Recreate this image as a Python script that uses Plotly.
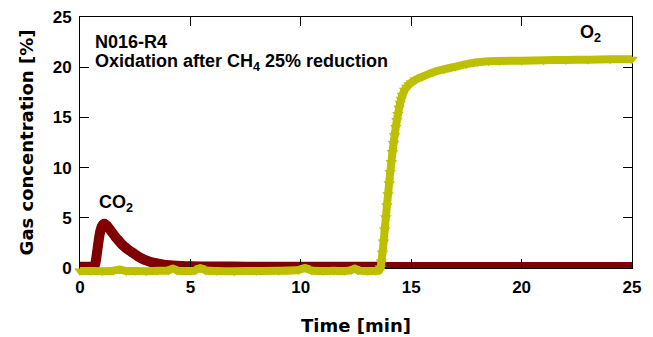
import plotly.graph_objects as go

# CO2 series
co2_t = [0, 0.2, 0.4, 0.55, 0.65, 0.7, 0.75, 0.8, 0.85, 0.9, 0.95, 1.0, 1.05, 1.1, 1.15,
         1.2, 1.3, 1.4, 1.5, 1.6, 1.7, 1.8, 1.9, 2.0, 2.2, 2.4, 2.6, 2.8, 3.0, 3.2, 3.5,
         3.8, 4.2, 4.6, 5, 6, 7, 8, 9, 10, 11, 12, 13, 14, 15, 16, 17, 18, 19, 20, 21,
         22, 23, 24, 25]
co2_v = [0.12, 0.12, 0.12, 0.12, 0.2, 0.5, 1.2, 2.0, 2.8, 3.45, 3.9, 4.2, 4.35, 4.4, 4.35,
         4.25, 4.0, 3.7, 3.4, 3.1, 2.85, 2.6, 2.35, 2.15, 1.8, 1.5, 1.2, 0.95, 0.75, 0.6,
         0.45, 0.33, 0.25, 0.2, 0.17, 0.15, 0.14, 0.13, 0.13, 0.12, 0.12, 0.12, 0.12, 0.11,
         0.11, 0.11, 0.11, 0.1, 0.1, 0.1, 0.1, 0.1, 0.1, 0.1, 0.1]

# O2 series
o2_t = [0, 0.5, 1.0, 1.5, 1.8, 2.1, 2.5, 3.0, 3.5, 4.0, 4.2, 4.4, 4.8, 5.2, 5.45, 5.7,
        6.2, 7.0, 8.0, 9.0, 9.9, 10.2, 10.5, 11.0, 11.5, 12.0, 12.3, 12.45, 12.6, 13.0,
        13.4, 13.55, 13.6, 13.65, 13.7, 13.75, 13.8, 13.85, 13.9, 13.95, 14.0, 14.05,
        14.1, 14.15, 14.2, 14.25, 14.3, 14.35, 14.4, 14.45, 14.5, 14.55, 14.6, 14.7,
        14.8, 14.9, 15.0, 15.2, 15.5, 16.0, 16.5, 17.0, 17.5, 18.0, 18.5, 19.0, 20.0,
        21.0, 22.0, 23.0, 24.0, 25.0]
o2_v = [-0.3, -0.3, -0.32, -0.28, -0.15, -0.3, -0.3, -0.32, -0.28, -0.25, -0.05, -0.25,
        -0.3, -0.25, 0.0, -0.25, -0.3, -0.32, -0.3, -0.28, -0.2, 0.0, -0.25, -0.3,
        -0.28, -0.3, -0.2, -0.05, -0.25, -0.3, -0.3, -0.25, 0.0, 0.6, 1.5, 2.6, 3.8, 5.0,
        6.2, 7.3, 8.4, 9.5, 10.5, 11.5, 12.4, 13.2, 14.0, 14.7, 15.3, 15.9, 16.4, 16.8,
        17.2, 17.7, 18.0, 18.25, 18.45, 18.75, 19.05, 19.5, 19.8, 20.05, 20.3, 20.5,
        20.6, 20.62, 20.65, 20.7, 20.72, 20.75, 20.78, 20.8]

x_ticks = [0, 5, 10, 15, 20, 25]
y_ticks = [0, 5, 10, 15, 20, 25]
x_range = [0, 25]
y_range = [0, 25]

FONT = "Liberation Sans, Arial, sans-serif"
TFONT = "DejaVu Sans, Verdana, sans-serif"
RED = "#800000"
YEL = "#bcc000"

# layout geometry (pixels)
W, H = 653, 337
PL, PR, PT = 80, 632, 17
PB_MAIN = 268      # y = 0 line
PB_EXT = 277       # extended clip area for the O2 trace
px_per_unit = (PB_MAIN - PT) / (y_range[1] - y_range[0])
ext_bottom_val = y_range[0] - (PB_EXT - PB_MAIN) / px_per_unit
main_dom0 = (PB_EXT - PB_MAIN) / (PB_EXT - PT)

fig = go.Figure()
fig.add_trace(go.Scatter(
    x=co2_t, y=co2_v, mode="lines+markers", cliponaxis=True,
    line=dict(color=RED, width=10, shape="spline", smoothing=0.6),
    marker=dict(symbol="circle", size=9, color=RED), showlegend=False,
    xaxis="x", yaxis="y"))
fig.add_trace(go.Scatter(
    x=o2_t, y=o2_v, mode="lines+markers", cliponaxis=False,
    line=dict(color=YEL, width=8, shape="spline", smoothing=0.6),
    marker=dict(symbol="triangle-down", size=10, color=YEL), showlegend=False,
    xaxis="x2", yaxis="y2"))

axis_common = dict(
    showline=True, linecolor="black", linewidth=1, mirror="ticks",
    ticks="inside", ticklen=9, tickcolor="black", tickwidth=1,
    showgrid=False, zeroline=False, automargin=False, ticklabelstandoff=4,
    tickfont=dict(family=FONT, size=17, color="black"),
)
fig.update_layout(
    xaxis=dict(range=x_range, tickvals=x_ticks, domain=[0, 1], anchor="y",
               ticktext=["<b>%d</b>" % v for v in x_ticks],
               title=dict(text="<b>Time [min]</b>", standoff=22,
                          font=dict(family=TFONT, size=18, color="black")),
               **axis_common),
    yaxis=dict(range=y_range, tickvals=y_ticks, domain=[main_dom0, 1], anchor="x",
               ticktext=["<b>%d</b>" % v for v in y_ticks],
               title=dict(text="<b>Gas concentration [%]</b>", standoff=14,
                          font=dict(family=TFONT, size=18, color="black")),
               **axis_common),
    xaxis2=dict(range=x_range, domain=[0, 1], anchor="y2", visible=False,
                showgrid=False, zeroline=False),
    yaxis2=dict(range=[ext_bottom_val, y_range[1]], domain=[0, 1], anchor="x2",
                visible=False, showgrid=False, zeroline=False),
)

ann_font = dict(family=FONT, size=18, color="black")
fig.add_annotation(x=0.6, y=22.5, xref="x", yref="y", text="<b>N016-R4</b>",
                   showarrow=False, xanchor="left", yanchor="middle", font=ann_font)
fig.add_annotation(x=0.6, y=20.5, xref="x", yref="y",
                   text="<b>Oxidation after CH<sub>4</sub> 25% reduction</b>",
                   showarrow=False, xanchor="left", yanchor="middle", font=ann_font)
fig.add_annotation(x=23.1, y=23.4, xref="x", yref="y", text="<b>O<sub>2</sub></b>",
                   showarrow=False, xanchor="center", yanchor="middle", font=ann_font)
fig.add_annotation(x=1.63, y=6.4, xref="x", yref="y", text="<b>CO<sub>2</sub></b>",
                   showarrow=False, xanchor="center", yanchor="middle", font=ann_font)

fig.update_layout(
    width=W, height=H, autosize=False,
    margin=dict(l=PL, r=W - PR, t=PT, b=H - PB_EXT),
    paper_bgcolor="white", plot_bgcolor="rgba(0,0,0,0)",
)
fig.write_html("out.html", config={"displayModeBar": False},
               post_script="document.body.style.margin='0';"
                           "document.body.style.overflow='hidden';")
